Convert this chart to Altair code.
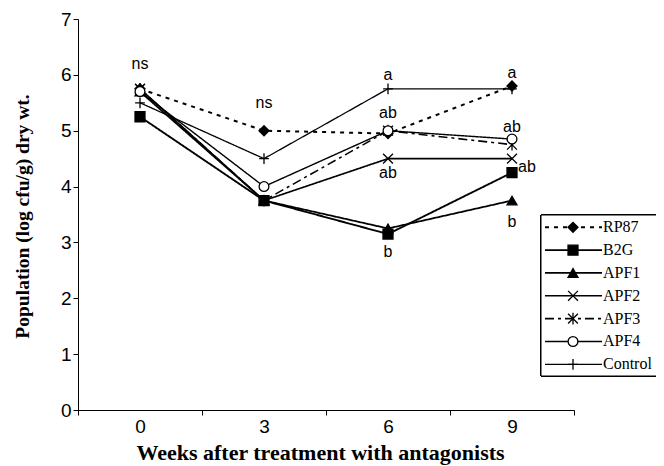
import altair as alt
import pandas as pd

weeks = ["0", "3", "6", "9"]
series = ["RP87", "B2G", "APF1", "APF2", "APF3", "APF4", "Control"]
rp87 = [5.75, 5.0, 4.95, 5.8]
b2g = [5.25, 3.75, 3.15, 4.25]
apf1 = [5.7, 3.75, 3.25, 3.75]
apf2 = [5.75, 3.75, 4.5, 4.5]
apf3 = [5.75, 3.75, 5.0, 4.75]
apf4 = [5.7, 4.0, 5.0, 4.85]
control = [5.5, 4.5, 5.75, 5.75]

ann_weeks = ["0", "3", "6", "6", "6", "6", "9", "9", "9"]
ann_values = [6.19, 5.49, 6.0, 5.32, 4.25, 2.83, 6.04, 5.07, 3.37]
ann_labels = ["ns", "ns", "a", "ab", "ab", "b", "a", "ab", "b"]
side_weeks = ["9"]
side_values = [4.35]
side_labels = ["ab"]

all_vals = [rp87, b2g, apf1, apf2, apf3, apf4, control]
df = pd.DataFrame({
    "week": weeks * len(series),
    "series": [s for s in series for _ in weeks],
    "value": [v for vals in all_vals for v in vals],
})
ann = pd.DataFrame({"week": ann_weeks, "value": ann_values, "label": ann_labels})
side = pd.DataFrame({"week": side_weeks, "value": side_values, "label": side_labels})
leg = pd.DataFrame({"series": series})

X_PATH = "M-1,-1L1,1M-1,1L1,-1"
STAR_PATH = "M-1,-1L1,1M-1,1L1,-1M0,-1.2L0,1.2"
PLUS_PATH = "M-1,0L1,0M0,-1.1L0,1.1"

dash_scale = alt.Scale(domain=series, range=[[4, 5], [1, 0], [1, 0], [1, 0], [9, 4, 3, 4], [1, 0], [1, 0]])
width_scale = alt.Scale(domain=series, range=[2, 1.3, 1.3, 1.3, 1.5, 1.3, 1.3])
shape_scale = alt.Scale(domain=series, range=["diamond", "square", "triangle-up", X_PATH, STAR_PATH, "circle", PLUS_PATH])
fill_scale = alt.Scale(domain=series, range=["black", "black", "black", "transparent", "transparent", "white", "transparent"])
size_scale = alt.Scale(domain=series, range=[100, 95, 100, 81, 90, 70, 100])

xenc = alt.X(
    "week:O", sort=weeks, bandPosition=0.5,
    scale=alt.Scale(type="band", domain=weeks, paddingInner=0, paddingOuter=0),
    axis=alt.Axis(
        title="Weeks after treatment with antagonists", tickBand="extent", labelAngle=0,
        tickSize=5, labelPadding=2, labelFont="Liberation Sans", labelFontSize=19,
        titleFont="Liberation Serif", titleFontWeight="bold", titleFontSize=22,
        titleX=242, titleY=42, titleBaseline="middle", titleAlign="center",
        domainColor="black", tickColor="black", labelColor="black", titleColor="black", grid=False,
    ),
)
yenc = alt.Y(
    "value:Q", scale=alt.Scale(domain=[0, 7], nice=False, zero=True),
    axis=alt.Axis(
        title="Population (log cfu/g) dry wt.", values=[0, 1, 2, 3, 4, 5, 6, 7], format="d",
        tickSize=5, labelPadding=2, labelFont="Liberation Sans", labelFontSize=19,
        titleFont="Liberation Serif", titleFontWeight="bold", titleFontSize=19.5,
        titleX=-56, titleY=197, titleAngle=-90, titleBaseline="middle", titleAlign="center",
        domainColor="black", tickColor="black", labelColor="black", titleColor="black", grid=False,
    ),
)

base = alt.Chart(df)
lines = base.mark_line(color="black").encode(
    x=xenc, y=yenc,
    strokeDash=alt.StrokeDash("series:N", scale=dash_scale, legend=None),
    strokeWidth=alt.StrokeWidth("series:N", scale=width_scale, legend=None),
    detail="series:N",
)
points = base.mark_point(stroke="black", strokeWidth=1.3, opacity=1).encode(
    x=xenc, y=yenc,
    shape=alt.Shape("series:N", scale=shape_scale, legend=None),
    fill=alt.Fill("series:N", scale=fill_scale, legend=None),
    size=alt.Size("series:N", scale=size_scale, legend=None),
)
texts = alt.Chart(ann).mark_text(font="Liberation Sans", fontSize=16, baseline="middle", color="black").encode(
    x=xenc, y=yenc, text="label:N"
)
side_text = alt.Chart(side).mark_text(font="Liberation Sans", fontSize=16, baseline="middle", color="black", dx=15).encode(
    x=xenc, y=yenc, text="label:N"
)
data_layer = alt.layer(lines, points, texts, side_text)

ly = alt.Y("series:N", scale=alt.Scale(type="point", domain=series, range=[208.3, 345.3], padding=0), axis=None)
lbase = alt.Chart(leg)
box = lbase.mark_rect(fill="white", stroke="black", strokeWidth=1).encode(
    x=alt.value(463), x2=alt.value(579), y=alt.value(196), y2=alt.value(357)
)
lrules = lbase.mark_rule(color="black").encode(
    x=alt.value(467), x2=alt.value(524), y=ly,
    strokeDash=alt.StrokeDash("series:N", scale=dash_scale, legend=None),
    strokeWidth=alt.StrokeWidth("series:N", scale=width_scale, legend=None),
)
lpoints = lbase.mark_point(stroke="black", strokeWidth=1.3, opacity=1).encode(
    x=alt.value(495), y=ly,
    shape=alt.Shape("series:N", scale=shape_scale, legend=None),
    fill=alt.Fill("series:N", scale=fill_scale, legend=None),
    size=alt.Size("series:N", scale=size_scale, legend=None),
)
ltext = lbase.mark_text(font="Liberation Serif", fontSize=16, align="left", baseline="middle", color="black").encode(
    x=alt.value(525), y=ly, text="series:N"
)
legend_layer = alt.layer(box, lrules, lpoints, ltext)

chart = alt.layer(data_layer, legend_layer).resolve_scale(y="independent").properties(
    width=496, height=391,
    padding={"left": 70, "top": 11, "right": 82, "bottom": 58},
    autosize=alt.AutoSizeParams(type="none"),
    background="white",
).configure_view(stroke=None)

chart.save("out.html", embed_options={"renderer": "svg", "actions": False})
